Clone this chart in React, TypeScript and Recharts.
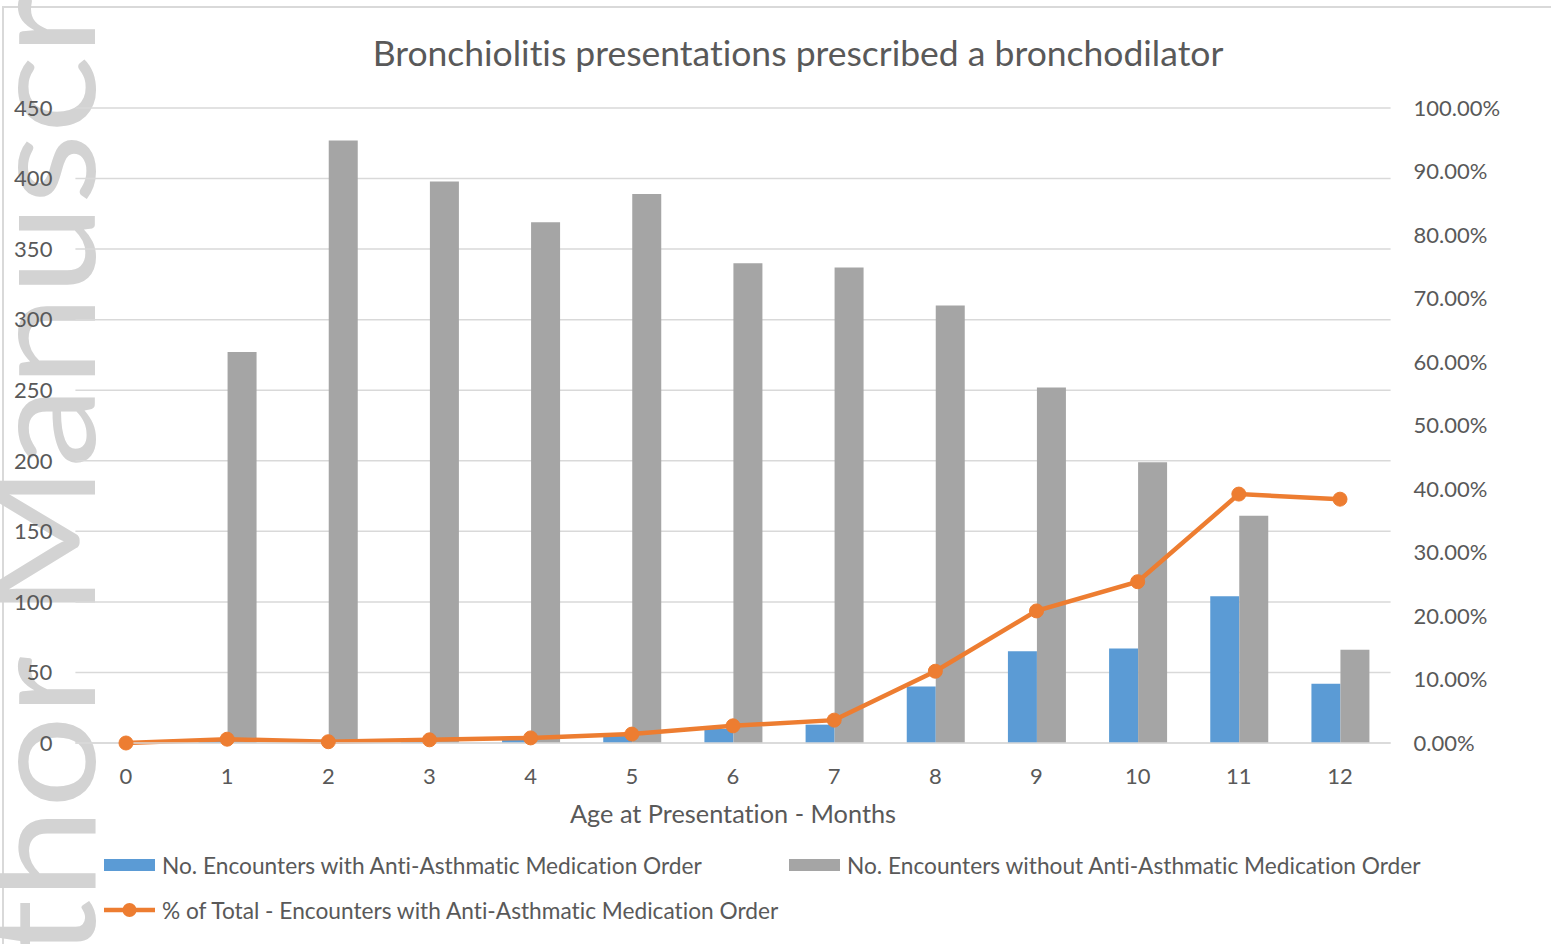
import React from 'react';
import { ComposedChart, Bar, Line, XAxis, YAxis, CartesianGrid, Legend } from 'recharts';

const months = ['0', '1', '2', '3', '4', '5', '6', '7', '8', '9', '10', '11', '12'];
const withMed = [0, 2, 1, 2, 3, 5, 10, 13, 40, 65, 67, 104, 42];
const withoutMed = [0, 277, 427, 398, 369, 389, 340, 337, 310, 252, 199, 161, 66];
const pctWithMed = [0, 0.6, 0.2, 0.5, 0.8, 1.4, 2.7, 3.6, 11.3, 20.8, 25.4, 39.2, 38.4];

const leftTicks = [0, 50, 100, 150, 200, 250, 300, 350, 400, 450];
const rightTicks = [0, 10, 20, 30, 40, 50, 60, 70, 80, 90, 100];

const titleText = 'Bronchiolitis presentations prescribed a bronchodilator';
const xLabel = 'Age at Presentation - Months';
const seriesNames = [
  'No. Encounters with Anti-Asthmatic Medication Order',
  'No. Encounters without Anti-Asthmatic Medication Order',
  '% of Total - Encounters with Anti-Asthmatic Medication Order',
];
const watermark = 'thor Manuscr';

const data = months.map((m, i) => ({
  month: m,
  withMed: withMed[i],
  withoutMed: withoutMed[i],
  pct: pctWithMed[i],
}));

const FONT = 'Lato, "Open Sans", sans-serif';
const TEXT = '#595959';
const BLUE = '#5B9BD5';
const GRAY = '#A5A5A5';
const ORANGE = '#ED7D31';
const GRID = '#D9D9D9';

const W = 1551;
const H = 944;
const LEG_FS = 22.7;

const LegendContent = () => (
  <svg width={W} height={100} style={{ display: 'block' }}>
    <rect x={104} y={19} width={51} height={12} fill={BLUE} />
    <text x={162} y={25} dominantBaseline="central" fontFamily={FONT} fontSize={LEG_FS} fill={TEXT}>
      {seriesNames[0]}
    </text>
    <rect x={789} y={19} width={51} height={12} fill={GRAY} />
    <text x={847} y={25} dominantBaseline="central" fontFamily={FONT} fontSize={LEG_FS} fill={TEXT}>
      {seriesNames[1]}
    </text>
    <line x1={104} y1={70} x2={155} y2={70} stroke={ORANGE} strokeWidth={4.5} />
    <circle cx={129.5} cy={70} r={7} fill={ORANGE} />
    <text x={162} y={70} dominantBaseline="central" fontFamily={FONT} fontSize={LEG_FS} fill={TEXT}>
      {seriesNames[2]}
    </text>
  </svg>
);

export default function App() {
  return (
    <div
      style={{
        position: 'absolute',
        left: 0,
        top: 0,
        width: W,
        height: H,
        overflow: 'hidden',
        background: '#fff',
        fontVariantLigatures: 'none',
        fontFeatureSettings: '"liga" 0, "clig" 0',
      }}
    >
      <svg width={W} height={H} style={{ position: 'absolute', left: 0, top: 0 }}>
        <rect x={3} y={7} width={W + 20} height={H + 20} fill="none" stroke={GRID} strokeWidth={2} />
        <text
          transform="translate(95, 958) rotate(-90)"
          fontFamily={FONT}
          fontSize={150}
          fill="#D3D3D3"
          textLength={962}
          lengthAdjust="spacingAndGlyphs"
        >
          {watermark}
        </text>
      </svg>
      <div style={{ position: 'absolute', left: 0, top: 0 }}>
        <ComposedChart
          width={W}
          height={H}
          data={data}
          margin={{ top: 108, right: 40.4, bottom: 121, left: 5.4 }}
          barGap={0}
          barSize={29}
        >
          <CartesianGrid yAxisId="left" vertical={false} stroke={GRID} strokeWidth={1.5} />
          <XAxis
            dataKey="month"
            height={80}
            tickLine={false}
            tickSize={0}
            tickMargin={25}
            axisLine={{ stroke: GRID, strokeWidth: 1.5 }}
            tick={{ fill: TEXT, fontSize: 22, fontFamily: FONT }}
            interval={0}
            label={{ value: xLabel, position: 'insideBottom', offset: 0, fill: TEXT, fontSize: 25.3, fontFamily: FONT }}
          />
          <YAxis
            yAxisId="left"
            orientation="left"
            width={70}
            domain={[0, 450]}
            ticks={leftTicks}
            interval={0}
            axisLine={false}
            tickLine={false}
            tickSize={0}
            tickMargin={23}
            tick={{ fill: TEXT, fontSize: 22, fontFamily: FONT }}
          />
          <YAxis
            yAxisId="right"
            orientation="right"
            width={120}
            domain={[0, 100]}
            ticks={rightTicks}
            interval={0}
            axisLine={false}
            tickLine={false}
            tickSize={0}
            tickMargin={23}
            tickFormatter={(v: number) => `${v.toFixed(2)}%`}
            tick={{ fill: TEXT, fontSize: 22, fontFamily: FONT, textAnchor: 'start' }}
          />
          <Bar yAxisId="left" dataKey="withMed" name={seriesNames[0]} fill={BLUE} isAnimationActive={false} />
          <Bar yAxisId="left" dataKey="withoutMed" name={seriesNames[1]} fill={GRAY} isAnimationActive={false} />
          <Line
            yAxisId="right"
            type="linear"
            dataKey="pct"
            name={seriesNames[2]}
            stroke={ORANGE}
            strokeWidth={4.5}
            dot={{ r: 7, fill: ORANGE, stroke: ORANGE, strokeWidth: 1 }}
            activeDot={false}
            isAnimationActive={false}
          />
          <Legend
            layout="horizontal"
            verticalAlign="middle"
            align="center"
            width={W}
            height={100}
            wrapperStyle={{ top: 840, left: 0, width: W, height: 100 }}
            content={<LegendContent />}
          />
        </ComposedChart>
      </div>
      <svg width={W} height={100} style={{ position: 'absolute', left: 0, top: 0, pointerEvents: 'none' }}>
        <text x={798} y={66} textAnchor="middle" fontFamily={FONT} fontSize={35.5} fill={TEXT}>
          {titleText}
        </text>
      </svg>
    </div>
  );
}
